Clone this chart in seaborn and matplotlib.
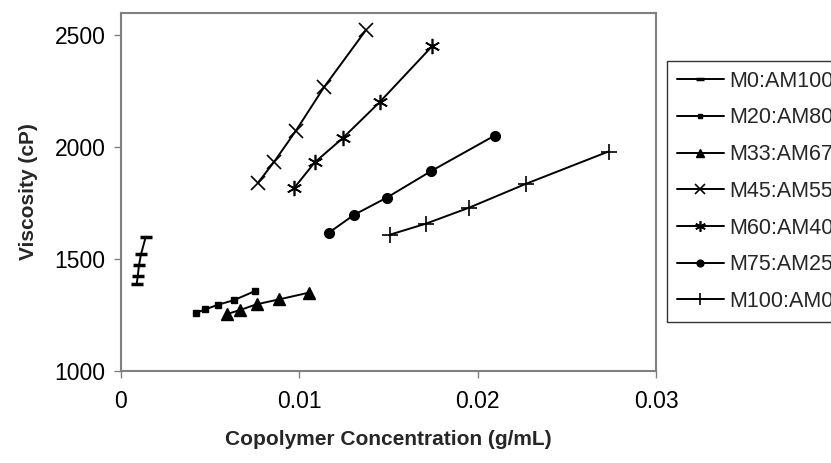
import numpy as np
import pandas as pd
import matplotlib
matplotlib.use("Agg")
import matplotlib.pyplot as plt
import seaborn as sns

sns.set_theme(style="white")
plt.rcParams['font.family'] = ['Liberation Sans', 'DejaVu Sans']

# values
labels = ["M0:AM100", "M20:AM80", "M33:AM67", "M45:AM55", "M60:AM40", "M75:AM25", "M100:AM0"]

conc_m0 = [0.00088, 0.00094, 0.00101, 0.00112, 0.00139]
visc_m0 = [1387, 1425, 1473, 1521, 1600]

conc_m20 = [0.00420, 0.00472, 0.00543, 0.00631, 0.00754]
visc_m20 = [1260, 1275, 1296, 1316, 1358]

conc_m33 = [0.00592, 0.00666, 0.00760, 0.00886, 0.01053]
visc_m33 = [1254, 1272, 1298, 1320, 1350]

conc_m45 = [0.00769, 0.00858, 0.00980, 0.01139, 0.01372]
visc_m45 = [1842, 1934, 2073, 2269, 2522]

conc_m60 = [0.00971, 0.01086, 0.01245, 0.01451, 0.01744]
visc_m60 = [1818, 1932, 2042, 2202, 2451]

conc_m75 = [0.01167, 0.01307, 0.01491, 0.01740, 0.02095]
visc_m75 = [1619, 1698, 1775, 1894, 2052]

conc_m100 = [0.01511, 0.01708, 0.01949, 0.02269, 0.02734]
visc_m100 = [1610, 1658, 1729, 1836, 1981]

series = [
    (conc_m0, visc_m0, "_", 9, 2.5),
    (conc_m20, visc_m20, "s", 4.5, 1),
    (conc_m33, visc_m33, "^", 8, 1),
    (conc_m45, visc_m45, "x", 10, 1.2),
    (conc_m60, visc_m60, (6, 2, 0), 11, 1.2),
    (conc_m75, visc_m75, "o", 7, 1),
    (conc_m100, visc_m100, "+", 12, 1.2),
]

fig = plt.figure(figsize=(8.31, 4.63), dpi=100)
ax = fig.add_axes([0.1456, 0.1987, 0.6438, 0.7732])

for label, (cx, vy, mk, ms, mew) in zip(labels, series):
    df = pd.DataFrame({"conc": cx, "visc": vy})
    sns.lineplot(data=df, x="conc", y="visc", ax=ax, color="black", marker=mk,
                 markersize=ms, markeredgewidth=mew, markeredgecolor="black",
                 linewidth=1.4, sort=False, label=label)

ax.set_xlim(0, 0.03)
ax.set_ylim(1000, 2600)
ax.set_xticks([0, 0.01, 0.02, 0.03])
ax.set_xticklabels(["0", "0.01", "0.02", "0.03"])
ax.set_yticks([1000, 1500, 2000, 2500])
ax.tick_params(axis="both", which="major", labelsize=16.5, colors="black",
               length=5, width=1, direction="out", bottom=True, left=True)
ax.tick_params(axis="x", pad=9)
ax.tick_params(axis="y", pad=6)
ax.tick_params(axis="both", color="#808080")
for sp in ax.spines.values():
    sp.set_color("#808080")
    sp.set_linewidth(1.5)

ax.set_xlabel("Copolymer Concentration (g/mL)", fontsize=15, fontweight="bold", labelpad=12)
ax.set_ylabel("Viscosity (cP)", fontsize=15, fontweight="bold", labelpad=12)

leg = ax.legend(loc="upper left", bbox_to_anchor=(0.8027, 0.8682),
                bbox_transform=fig.transFigure, frameon=True, fancybox=False,
                shadow=False, fontsize=15.5, labelspacing=0.73, handlelength=2.2,
                handletextpad=0.25, borderpad=0.45, borderaxespad=0,
                markerscale=0.7)
leg.get_frame().set_edgecolor("black")
leg.get_frame().set_linewidth(1)

fig.savefig("out.png", dpi=100)
